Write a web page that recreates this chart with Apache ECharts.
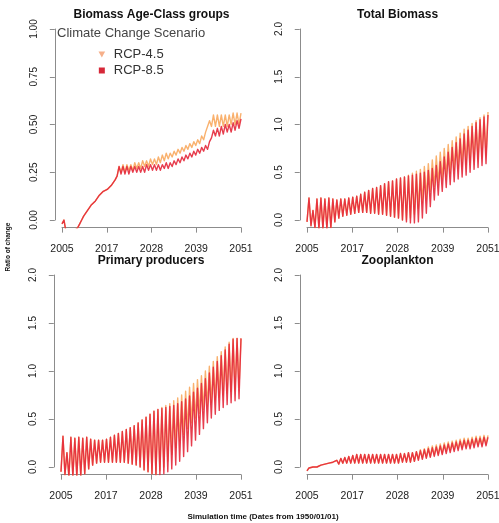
<!DOCTYPE html>
<html>
<head>
<meta charset="utf-8">
<script src="https://cdn.jsdelivr.net/npm/echarts@6/dist/echarts.min.js"></script>
<style>
html,body{margin:0;padding:0;background:#fff;}
#chart{width:499px;height:523px;}
</style>
</head>
<body>
<div id="chart"></div>
<script>
// ---- tick labels / categories ----
const xTickLabels = ['2005', '2017', '2028', '2039', '2051'];
const seriesNames = ['RCP-4.5', 'RCP-8.5'];
const panelTitles = ['Biomass Age-Class groups', 'Total Biomass', 'Primary producers', 'Zooplankton'];

// ---- data: yearly troughs (Lo) and peaks (Hi), years 2005..2050 ----
// Biomass Age-Class groups
const tlLo45 = [-0.02,-0.06,-0.07,-0.06,-0.04, 0.00,0.03,0.06,0.08,0.10,
  0.12,0.14,0.15,0.17,0.23, 0.25,0.25,0.26,0.26,0.27,
  0.27,0.28,0.28,0.29,0.29, 0.30,0.31,0.32,0.33,0.34,
  0.35,0.36,0.37,0.38,0.39, 0.40,0.42,0.47,0.49,0.49,
  0.49,0.49,0.49,0.50,0.50,0.50];
const tlHi45 = [0.00,-0.05,-0.06,-0.05,-0.02, 0.02,0.05,0.08,0.10,0.13,
  0.15,0.16,0.18,0.21,0.28, 0.29,0.29,0.29,0.30,0.30,
  0.31,0.31,0.32,0.32,0.33, 0.34,0.35,0.35,0.36,0.37,
  0.38,0.39,0.40,0.41,0.42, 0.44,0.46,0.52,0.55,0.55,
  0.55,0.55,0.55,0.56,0.56,0.56];
const tlLo85 = [-0.02,-0.06,-0.07,-0.06,-0.04, 0.00,0.03,0.06,0.08,0.10,
  0.12,0.14,0.15,0.17,0.23, 0.24,0.24,0.24,0.25,0.25,
  0.25,0.25,0.26,0.26,0.26, 0.26,0.27,0.27,0.28,0.29,
  0.30,0.31,0.32,0.33,0.34, 0.35,0.36,0.37,0.43,0.44,
  0.44,0.45,0.46,0.46,0.47,0.48];
const tlHi85 = [0.00,-0.05,-0.06,-0.05,-0.02, 0.02,0.05,0.08,0.10,0.13,
  0.15,0.16,0.18,0.21,0.28, 0.28,0.28,0.28,0.28,0.28,
  0.28,0.29,0.29,0.29,0.29, 0.29,0.30,0.30,0.31,0.32,
  0.33,0.34,0.35,0.36,0.37, 0.38,0.39,0.41,0.47,0.48,
  0.49,0.50,0.50,0.51,0.52,0.53];

// Total Biomass
const tbLo45 = [-0.02,-0.06,-0.08,-0.09,-0.09, -0.09,-0.08,-0.02,0.02,0.04,
  0.05,0.06,0.07,0.08,0.08, 0.08,0.07,0.07,0.06,0.06,
  0.05,0.04,0.03,0.02,0.00, 0.00,0.02,0.06,0.12,0.18,
  0.24,0.30,0.35,0.39,0.43, 0.46,0.49,0.52,0.54,0.56,
  0.58,0.60,0.62,0.64,0.66,0.68];
const tbHi45 = [0.23,0.10,0.22,0.23,0.22, 0.23,0.22,0.21,0.22,0.22,
  0.23,0.24,0.25,0.27,0.29, 0.31,0.33,0.34,0.36,0.38,
  0.40,0.41,0.43,0.44,0.45, 0.47,0.49,0.51,0.53,0.56,
  0.59,0.63,0.67,0.71,0.75, 0.79,0.83,0.87,0.91,0.95,
  0.98,1.01,1.04,1.07,1.10,1.13];
const tbLo85 = [-0.02,-0.06,-0.08,-0.09,-0.09, -0.09,-0.08,-0.02,0.02,0.04,
  0.05,0.06,0.07,0.08,0.08, 0.08,0.07,0.07,0.06,0.06,
  0.05,0.04,0.03,0.02,0.00, -0.02,-0.03,-0.03,-0.02,0.02,
  0.07,0.14,0.21,0.26,0.30, 0.34,0.37,0.40,0.43,0.45,
  0.47,0.50,0.53,0.55,0.57,0.59];
const tbHi85 = [0.23,0.10,0.22,0.23,0.22, 0.23,0.22,0.21,0.22,0.22,
  0.23,0.24,0.25,0.27,0.29, 0.31,0.33,0.34,0.36,0.38,
  0.40,0.41,0.43,0.44,0.45, 0.46,0.47,0.48,0.49,0.50,
  0.52,0.54,0.57,0.61,0.66, 0.71,0.76,0.81,0.85,0.90,
  0.94,0.98,1.02,1.05,1.08,1.10];

// Primary producers
const ppLo45 = [-0.05,-0.08,-0.10,-0.10,-0.10, -0.09,-0.07,-0.02,0.02,0.04,
  0.05,0.05,0.05,0.05,0.05, 0.05,0.05,0.04,0.03,0.02,
  0.00,-0.03,-0.05,-0.07,-0.08, -0.04,0.00,0.06,0.13,0.20,
  0.27,0.34,0.40,0.46,0.51, 0.56,0.60,0.64,0.67,0.70,
  0.73,0.75,0.77,0.79,0.81,0.83];
const ppHi45 = [0.32,0.15,0.31,0.30,0.31, 0.30,0.31,0.29,0.28,0.28,
  0.28,0.29,0.31,0.33,0.35, 0.37,0.39,0.41,0.43,0.46,
  0.49,0.52,0.55,0.58,0.60, 0.62,0.64,0.66,0.69,0.72,
  0.75,0.79,0.83,0.87,0.91, 0.95,1.00,1.05,1.10,1.15,
  1.20,1.25,1.30,1.34,1.34,1.34];
const ppLo85 = [-0.05,-0.08,-0.10,-0.10,-0.10, -0.09,-0.07,-0.02,0.02,0.04,
  0.05,0.05,0.05,0.05,0.05, 0.05,0.05,0.04,0.03,0.02,
  0.00,-0.03,-0.05,-0.07,-0.08, -0.08,-0.07,-0.05,-0.02,0.02,
  0.06,0.11,0.16,0.22,0.28, 0.34,0.40,0.46,0.51,0.55,
  0.59,0.62,0.65,0.67,0.69,0.71];
const ppHi85 = [0.32,0.15,0.31,0.30,0.31, 0.30,0.31,0.29,0.28,0.28,
  0.28,0.29,0.31,0.33,0.35, 0.37,0.39,0.41,0.43,0.46,
  0.49,0.52,0.55,0.58,0.60, 0.61,0.62,0.63,0.64,0.66,
  0.68,0.71,0.74,0.78,0.82, 0.87,0.92,0.98,1.04,1.10,
  1.16,1.22,1.28,1.33,1.34,1.34];

// Zooplankton
const zpLo45 = [-0.04,-0.03,-0.02,-0.01,0.00, 0.01,0.02,0.03,0.03,0.04,
  0.04,0.04,0.04,0.04,0.04, 0.04,0.04,0.04,0.04,0.04,
  0.04,0.04,0.04,0.04,0.05, 0.05,0.05,0.06,0.08,0.09,
  0.10,0.11,0.12,0.13,0.14, 0.16,0.17,0.18,0.19,0.20,
  0.21,0.21,0.22,0.23,0.23,0.24];
const zpHi45 = [-0.01,0.00,0.00,0.02,0.03, 0.04,0.05,0.07,0.09,0.10,
  0.11,0.12,0.13,0.13,0.13, 0.13,0.13,0.13,0.13,0.13,
  0.13,0.13,0.13,0.14,0.14, 0.15,0.15,0.16,0.18,0.19,
  0.21,0.22,0.23,0.24,0.25, 0.26,0.27,0.28,0.29,0.30,
  0.30,0.31,0.32,0.32,0.33,0.33];
const zpLo85 = [-0.04,-0.03,-0.02,-0.01,0.00, 0.01,0.02,0.03,0.03,0.04,
  0.04,0.04,0.04,0.04,0.04, 0.04,0.04,0.04,0.04,0.04,
  0.04,0.04,0.04,0.04,0.05, 0.05,0.05,0.06,0.07,0.08,
  0.09,0.10,0.11,0.12,0.13, 0.14,0.15,0.16,0.17,0.18,
  0.19,0.19,0.20,0.21,0.21,0.22];
const zpHi85 = [-0.01,0.00,0.00,0.02,0.03, 0.04,0.05,0.07,0.09,0.10,
  0.11,0.12,0.13,0.13,0.13, 0.13,0.13,0.13,0.13,0.13,
  0.13,0.13,0.13,0.14,0.14, 0.15,0.15,0.16,0.17,0.18,
  0.19,0.20,0.21,0.22,0.23, 0.24,0.25,0.26,0.27,0.28,
  0.28,0.29,0.30,0.30,0.31,0.31];

// ---- layout / style ----
const FONT = '"Liberation Sans", Arial, Helvetica, sans-serif';
const COL45 = '#F8A95E';
const COL85 = '#E4283A';
const AXC = '#8c8c8c';

const panels = [
  {title: panelTitles[0], x0: 62,  x1: 241, y0: 220, y1: 29,  ymax: 1, yint: 0.25, dec: 2, d45: [tlLo45, tlHi45], d85: [tlLo85, tlHi85]},
  {title: panelTitles[1], x0: 307, x1: 488, y0: 220, y1: 29,  ymax: 2, yint: 0.5,  dec: 1, d45: [tbLo45, tbHi45], d85: [tbLo85, tbHi85]},
  {title: panelTitles[2], x0: 61,  x1: 241, y0: 467, y1: 275, ymax: 2, yint: 0.5,  dec: 1, d45: [ppLo45, ppHi45], d85: [ppLo85, ppHi85]},
  {title: panelTitles[3], x0: 307, x1: 488, y0: 467, y1: 275, ymax: 2, yint: 0.5,  dec: 1, d45: [zpLo45, zpHi45], d85: [zpLo85, zpHi85]}
];

const NX = 92; // half-year steps 2005..2051
function zigzag(lo, hi) {
  const out = [];
  const n = lo.length * 2 - 1;
  for (let i = 0; i < lo.length; i++) {
    out.push([(2 * i) * NX / n, lo[i]]);
    out.push([(2 * i + 1) * NX / n, hi[i]]);
  }
  return out;
}

const grid = [], xAxis = [], yAxis = [], series = [], title = [];
panels.forEach((p, k) => {
  const w = p.x1 - p.x0, h = p.y0 - p.y1;
  const ex = w * 0.04, ey = h * 0.04;
  grid.push({left: p.x0 - ex, top: p.y1 - ey, width: w * 1.08, height: h * 1.08, outerBoundsMode: 'none'});
  grid.push({left: p.x0, top: p.y1 - ey, width: w, height: h * 1.08, outerBoundsMode: 'none'});
  grid.push({left: p.x0 - ex, top: p.y1, width: w * 1.08, height: h, outerBoundsMode: 'none'});
  const g = k * 3;
  xAxis.push({gridIndex: g, type: 'value', min: -0.04 * NX, max: 1.04 * NX, show: false});
  yAxis.push({gridIndex: g, type: 'value', min: -0.04 * p.ymax, max: 1.04 * p.ymax, show: false});
  xAxis.push({gridIndex: g + 1, type: 'value', min: 0, max: NX, interval: NX / 4,
    axisLine: {show: true, lineStyle: {color: AXC, width: 1}},
    axisTick: {show: true, length: 5, lineStyle: {color: AXC}},
    splitLine: {show: false},
    axisLabel: {show: true, fontFamily: FONT, fontSize: 10.5, color: '#222', margin: 16,
      showMinLabel: true, showMaxLabel: true,
      formatter: v => xTickLabels[Math.round(v / (NX / 4))]}});
  yAxis.push({gridIndex: g + 1, type: 'value', min: 0, max: 1, show: false});
  xAxis.push({gridIndex: g + 2, type: 'value', min: 0, max: 1, show: false});
  yAxis.push({gridIndex: g + 2, type: 'value', min: 0, max: p.ymax, interval: p.yint,
    axisLine: {show: true, lineStyle: {color: AXC, width: 1}},
    axisTick: {show: true, length: 5, lineStyle: {color: AXC}},
    splitLine: {show: false},
    axisLabel: {show: true, rotate: 90, fontFamily: FONT, fontSize: 10, color: '#222', margin: 16,
      showMinLabel: true, showMaxLabel: true,
      formatter: v => v.toFixed(p.dec)}});
  [[p.d45, COL45, seriesNames[0]], [p.d85, COL85, seriesNames[1]]].forEach(([d, c, nm]) => {
    series.push({type: 'line', name: nm, xAxisIndex: g, yAxisIndex: g,
      data: zigzag(d[0], d[1]), showSymbol: false, symbol: 'none', clip: true,
      lineStyle: {color: c, width: 1.4, opacity: 0.9, join: 'round'}, itemStyle: {color: c},
      emphasis: {disabled: true}, animation: false});
  });
  title.push({text: p.title, left: p.x0 + w / 2, top: p.y1 - ey - 13, textAlign: 'center', padding: 0,
    textStyle: {fontFamily: FONT, fontSize: 12, fontWeight: 'bold', color: '#111'}});
});
title.push({text: 'Climate Change Scenario', left: 57, top: 26.5, padding: 0,
  textStyle: {fontFamily: FONT, fontSize: 13, fontWeight: 'normal', color: '#444'}});

const chart = echarts.init(document.getElementById('chart'), null, {renderer: 'canvas'});
chart.setOption({
  backgroundColor: '#fff',
  animation: false,
  title: title,
  legend: {
    orient: 'vertical', left: 98.5, top: 48, padding: 0, itemGap: 3,
    itemWidth: 14, itemHeight: 6, selectedMode: false,
    textStyle: {fontFamily: FONT, fontSize: 13, color: '#333'},
    data: [
      {name: seriesNames[0], icon: 'path://M0,0L10,0L5,9Z', itemStyle: {color: '#F6B08A'}},
      {name: seriesNames[1], icon: 'path://M0,0L10,0L10,10L0,10Z', itemStyle: {color: '#D62838'}}
    ]
  },
  grid: grid, xAxis: xAxis, yAxis: yAxis, series: series,
  graphic: [
    {type: 'text', x: 8, y: 247, rotation: Math.PI / 2,
      style: {text: 'Ratio of change', font: 'bold 6.5px ' + FONT, fill: '#111', align: 'center', verticalAlign: 'middle'}},
    {type: 'text', x: 263, y: 517,
      style: {text: 'Simulation time (Dates from 1950/01/01)', font: 'bold 8px ' + FONT, fill: '#111', align: 'center', verticalAlign: 'middle'}}
  ]
});
</script>
</body>
</html>
